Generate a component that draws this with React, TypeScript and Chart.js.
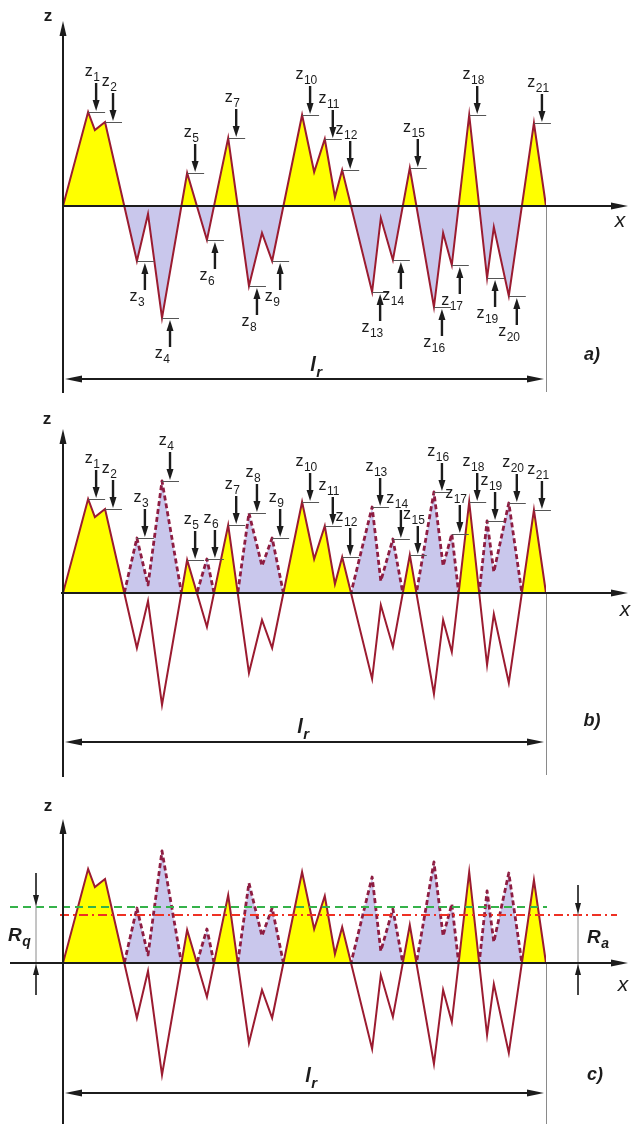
import React, { useEffect, useRef } from "react";
import { Chart, registerables } from "chart.js";

Chart.register(...registerables);

// ---- data (profile of the surface) ----
const profileX = [0, 5.2, 6.6, 8.7, 15.3, 17.6, 20.5, 25.7, 29.8, 34.2, 38.5, 41.2, 43.3, 49.5, 52.0, 54.2, 56.3, 57.8, 64.0, 65.8, 68.3, 71.8, 76.8, 78.7, 80.5, 84.1, 87.8, 89.2, 92.3, 97.5, 100];
const profileZ = [0, 9.4, 7.6, 8.4, -5.5, -0.8, -11.2, 3.3, -3.4, 6.8, -8.0, -2.7, -5.5, 9.1, 3.4, 6.7, 0.9, 3.6, -8.6, -1.2, -5.4, 3.8, -10.1, -2.7, -5.9, 9.1, -7.2, -2.1, -9.0, 8.3, 0];
const extremumIndex = [1, 3, 4, 6, 7, 8, 9, 10, 12, 13, 15, 17, 18, 20, 21, 22, 24, 25, 26, 28, 29];
const extremumLabels = ["1", "2", "3", "4", "5", "6", "7", "8", "9", "10", "11", "12", "13", "14", "15", "16", "17", "18", "19", "20", "21"];
const samplingLength = 100; // l_r
const RQ = 5.6;
const RA = 4.8;
const panelLetters = ["a)", "b)", "c)"];

// ---- styles / layout ----
const FONT = '"Liberation Sans", Arial, Helvetica, sans-serif';
const YELLOW = "#ffff00";
const LAVENDER = "#c9c7ec";
const LINE = "#9b1b30";
const LINE2 = "#8e1d42";
const GREEN = "#35b24a";
const RED = "#ee3124";
const INK = "#1c1c1c";
const GRAY = "#8a8a8a";
const W = 631;

type Panel = {
  mode: "a" | "b" | "c";
  top: number;
  height: number;
  baseline: number;
  zTip: number;
  axisBottom: number;
  lrY: number;
  lrLabel: [number, number];
  xLabel: [number, number];
  letter: [number, number];
  zLabel: [number, number];
  endBottom: number;
  baseStart: number;
};

const PANELS: Panel[] = [
  { mode: "a", top: 0, height: 400, baseline: 206, zTip: 21, axisBottom: 393, lrY: 379, lrLabel: [316, 371], xLabel: [620, 227], letter: [592, 360], zLabel: [48, 21], endBottom: 392, baseStart: 63 },
  { mode: "b", top: 400, height: 380, baseline: 593, zTip: 429, axisBottom: 777, lrY: 742, lrLabel: [303, 733], xLabel: [625, 616], letter: [592, 726], zLabel: [47, 424], endBottom: 775, baseStart: 61 },
  { mode: "c", top: 780, height: 344, baseline: 963, zTip: 819, axisBottom: 1124, lrY: 1093, lrLabel: [311, 1082], xLabel: [623, 991], letter: [595, 1080], zLabel: [48, 811], endBottom: 1124, baseStart: 10 },
];

const HALF_RANGE = 14;
const PX_PER_UNIT = 10;

function line(ctx: CanvasRenderingContext2D, x1: number, y1: number, x2: number, y2: number) {
  ctx.beginPath();
  ctx.moveTo(x1, y1);
  ctx.lineTo(x2, y2);
  ctx.stroke();
}

function arrow(ctx: CanvasRenderingContext2D, x1: number, y1: number, x2: number, y2: number, width: number, len: number, half: number, color: string) {
  const dx = x2 - x1, dy = y2 - y1;
  const L = Math.hypot(dx, dy) || 1;
  const ux = dx / L, uy = dy / L;
  ctx.strokeStyle = color;
  ctx.fillStyle = color;
  ctx.lineWidth = width;
  ctx.setLineDash([]);
  line(ctx, x1, y1, x2 - ux * len * 0.6, y2 - uy * len * 0.6);
  const bx = x2 - ux * len, by = y2 - uy * len;
  const nx = -uy, ny = ux;
  ctx.beginPath();
  ctx.moveTo(x2, y2);
  ctx.lineTo(bx + nx * half, by + ny * half);
  ctx.lineTo(bx - nx * half, by - ny * half);
  ctx.closePath();
  ctx.fill();
}

function subText(ctx: CanvasRenderingContext2D, main: string, sub: string, x: number, y: number, size: number, subSize: number, style: string, center: boolean) {
  ctx.textAlign = "left";
  ctx.textBaseline = "alphabetic";
  ctx.fillStyle = INK;
  ctx.font = `${style} ${size}px ${FONT}`;
  const w1 = ctx.measureText(main).width;
  ctx.font = `${style} ${subSize}px ${FONT}`;
  const w2 = ctx.measureText(sub).width;
  const sx = center ? x - (w1 + w2) / 2 : x;
  ctx.font = `${style} ${size}px ${FONT}`;
  ctx.fillText(main, sx, y);
  ctx.font = `${style} ${subSize}px ${FONT}`;
  ctx.fillText(sub, sx + w1 + 0.5, y + subSize * 0.38);
}

function makeChart(canvas: HTMLCanvasElement, p: Panel, letter: string) {
  const profile = profileX.map((x, i) => ({ x, y: profileZ[i] }));
  const mirrored = profileX.map((x, i) => ({ x, y: -profileZ[i] }));
  const localBase = p.baseline - p.top;
  const padTop = localBase - HALF_RANGE * PX_PER_UNIT;
  const padBottom = p.height - (localBase + HALF_RANGE * PX_PER_UNIT);

  const datasets: any[] = [
    {
      data: profile,
      borderColor: LINE,
      borderWidth: 2,
      borderJoinStyle: "miter",
      pointRadius: 0,
      tension: 0,
      order: 0,
      fill: { target: "origin", above: YELLOW, below: p.mode === "a" ? LAVENDER : "rgba(0,0,0,0)" },
    },
  ];
  if (p.mode !== "a") {
    datasets.push({
      data: mirrored,
      borderColor: LINE2,
      borderWidth: 2.8,
      borderDash: [5, 3],
      borderJoinStyle: "round",
      pointRadius: 0,
      tension: 0,
      order: 1,
      fill: { target: "origin", above: LAVENDER, below: "rgba(0,0,0,0)" },
    });
  }

  const decor = {
    id: "decor" + p.mode,
    beforeDatasetDraw(chart: any, args: any) {
      if (p.mode !== "a" && args.index === 1) {
        const ctx = chart.ctx;
        ctx.save();
        ctx.beginPath();
        ctx.rect(0, 0, chart.width, chart.scales.y.getPixelForValue(0));
        ctx.clip();
      }
    },
    afterDatasetDraw(chart: any, args: any) {
      if (p.mode !== "a" && args.index === 1) chart.ctx.restore();
    },
    afterDraw(chart: any) {
      const ctx: CanvasRenderingContext2D = chart.ctx;
      const xs = chart.scales.x, ys = chart.scales.y;
      const X = (v: number) => xs.getPixelForValue(v);
      const Y = (v: number) => ys.getPixelForValue(v);
      const T = p.top;
      const y0 = Y(0);
      const x0 = X(0);
      const xEnd = X(samplingLength);
      ctx.save();

      if (p.mode === "c") {
        ctx.lineWidth = 2;
        ctx.setLineDash([8, 5]);
        ctx.strokeStyle = GREEN;
        line(ctx, 10, Y(RQ), xEnd + 1, Y(RQ));
        ctx.setLineDash([9, 4, 2, 4]);
        ctx.strokeStyle = RED;
        line(ctx, x0 - 3, Y(RA), 617, Y(RA));
        ctx.setLineDash([]);
        // Rq dimension
        ctx.strokeStyle = GRAY;
        ctx.lineWidth = 1;
        line(ctx, 36, 873 - T, 36, 995 - T);
        arrow(ctx, 36, 873 - T, 36, Y(RQ) - 1, 1.5, 11, 3, INK);
        arrow(ctx, 36, 995 - T, 36, y0 + 1, 1.5, 11, 3, INK);
        // Ra dimension
        ctx.strokeStyle = GRAY;
        ctx.lineWidth = 1;
        line(ctx, 578, 885 - T, 578, 995 - T);
        arrow(ctx, 578, 885 - T, 578, Y(RA) - 1, 1.5, 11, 3, INK);
        arrow(ctx, 578, 995 - T, 578, y0 + 1, 1.5, 11, 3, INK);
        subText(ctx, "R", "q", 8, 941 - T, 19, 14, "italic bold", false);
        subText(ctx, "R", "a", 587, 943 - T, 19, 14, "italic bold", false);
      }

      // end of sampling length
      ctx.strokeStyle = GRAY;
      ctx.lineWidth = 1;
      ctx.setLineDash([]);
      line(ctx, xEnd + 0.5, y0, xEnd + 0.5, p.endBottom - T);

      // x axis
      ctx.strokeStyle = INK;
      ctx.lineWidth = 2;
      line(ctx, p.baseStart, y0, 614, y0);
      arrow(ctx, 610, y0, 628, y0, 2, 17, 3.5, INK);

      // z axis
      line(ctx, x0, p.axisBottom - T, x0, p.zTip - T + 10);
      arrow(ctx, x0, p.zTip - T + 14, x0, p.zTip - T, 2, 15, 3.5, INK);

      // l_r dimension line
      const ly = p.lrY - T;
      ctx.strokeStyle = INK;
      ctx.lineWidth = 2;
      line(ctx, x0 + 8, ly, xEnd - 8, ly);
      arrow(ctx, x0 + 20, ly, x0 + 2, ly, 2, 17, 3.5, INK);
      arrow(ctx, xEnd - 20, ly, xEnd - 2, ly, 2, 17, 3.5, INK);
      subText(ctx, "l", "r", p.lrLabel[0], p.lrLabel[1] - T, 20, 15, "italic bold", true);

      // axis names and panel letter
      ctx.fillStyle = INK;
      ctx.textAlign = "center";
      ctx.textBaseline = "alphabetic";
      ctx.font = `bold 17px ${FONT}`;
      ctx.fillText("z", p.zLabel[0], p.zLabel[1] - T);
      ctx.font = `italic 21px ${FONT}`;
      ctx.fillText("x", p.xLabel[0], p.xLabel[1] - T);
      ctx.font = `italic bold 18px ${FONT}`;
      ctx.fillText(letter, p.letter[0], p.letter[1] - T);

      // z_i annotations
      if (p.mode !== "c") {
        extremumIndex.forEach((idx, k) => {
          const vx = X(profileX[idx]);
          const z = p.mode === "a" ? profileZ[idx] : Math.abs(profileZ[idx]);
          const vy = Y(z);
          const ax = vx + 8;
          ctx.strokeStyle = "#555";
          ctx.lineWidth = 1;
          line(ctx, vx, vy + 0.5, vx + 17, vy + 0.5);
          if (z > 0) {
            arrow(ctx, ax, vy - 29, ax, vy - 1, 2.4, 11, 3.5, INK);
            subText(ctx, "z", extremumLabels[k], ax - 4, vy - 36, 16, 12, "", true);
          } else {
            arrow(ctx, ax, vy + 29, ax, vy + 2, 2.4, 11, 3.5, INK);
            subText(ctx, "z", extremumLabels[k], ax - 8, vy + 40, 16, 12, "", true);
          }
        });
      }
      ctx.restore();
    },
  };

  return new Chart(canvas, {
    type: "line",
    data: { datasets },
    options: {
      responsive: false,
      animation: false,
      devicePixelRatio: 1,
      layout: { padding: { left: 63, right: W - 546, top: padTop, bottom: padBottom } },
      plugins: { legend: { display: false }, title: { display: false }, tooltip: { enabled: false } },
      scales: {
        x: { type: "linear", min: 0, max: samplingLength, display: false },
        y: { type: "linear", min: -HALF_RANGE, max: HALF_RANGE, display: false },
      },
    },
    plugins: [decor],
  } as any);
}

export default function App() {
  const r0 = useRef<HTMLCanvasElement>(null);
  const r1 = useRef<HTMLCanvasElement>(null);
  const r2 = useRef<HTMLCanvasElement>(null);
  const refs = [r0, r1, r2];
  useEffect(() => {
    const charts = PANELS.map((p, i) => makeChart(refs[i].current as HTMLCanvasElement, p, panelLetters[i]));
    return () => charts.forEach((c) => c.destroy());
  }, []);
  return (
    <div style={{ position: "absolute", left: 0, top: 0, width: W, height: 1124, background: "#fff", overflow: "hidden" }}>
      {PANELS.map((p, i) => (
        <canvas
          key={i}
          ref={refs[i]}
          width={W}
          height={p.height}
          style={{ position: "absolute", left: 0, top: p.top, width: W, height: p.height, display: "block" }}
        />
      ))}
    </div>
  );
}
